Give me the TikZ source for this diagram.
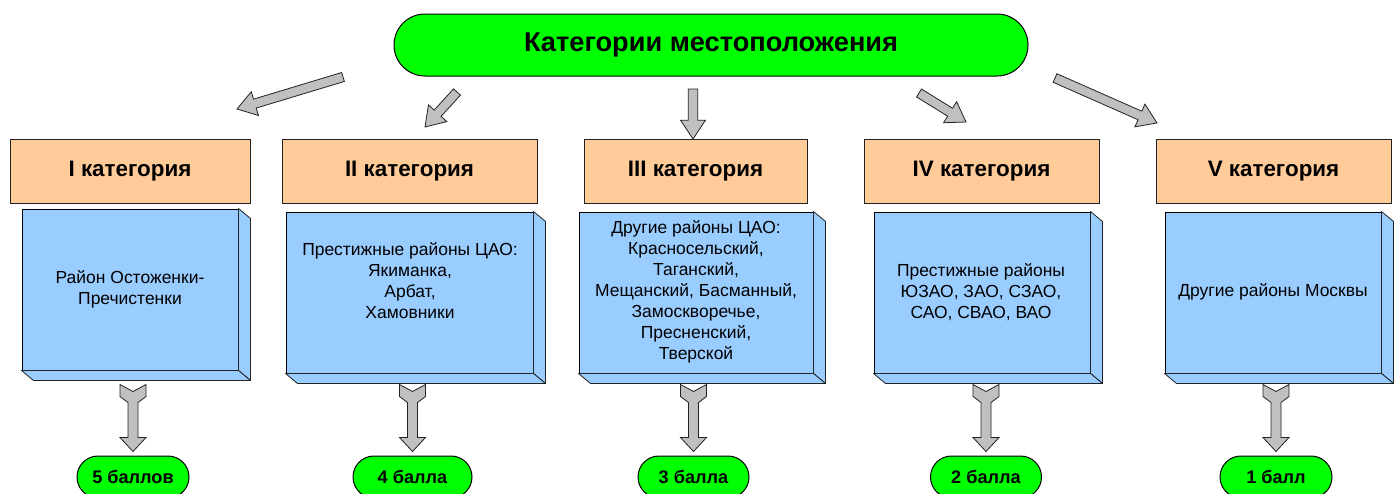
\documentclass[tikz,border=0pt]{standalone}
\usepackage{fontspec}
\setmainfont{Liberation Sans}
\usetikzlibrary{calc,shapes.misc}
\definecolor{ogreen}{HTML}{00FF00}
\definecolor{orng}{HTML}{FFCC99}
\definecolor{lblue}{HTML}{99CCFF}
\definecolor{agray}{HTML}{C0C0C0}
\definecolor{edgec}{HTML}{222222}
\newcommand{\blockarr}[2]{%
  \path ($(#2)!14pt!(#1)$) coordinate (#2base);
  \filldraw[blockarrow] ($(#1)!3.5pt!90:(#2)$) -- ($(#2base)!3.5pt!-90:(#1)$) -- ($(#2base)!9.3pt!-90:(#1)$) -- (#2) -- ($(#2base)!9.3pt!90:(#1)$) -- ($(#2base)!3.5pt!90:(#1)$) -- ($(#1)!3.5pt!-90:(#2)$) -- cycle;}
\begin{document}
\begin{tikzpicture}[x=0.75pt,y=-0.75pt,
  pill/.style={rounded rectangle, draw=black, line width=0.75pt, fill=ogreen, inner sep=0pt},
  cathead/.style={rectangle, draw=edgec, line width=0.75pt, fill=orng, inner sep=0pt, minimum height=48pt, font=\bfseries\fontsize{16.8}{19}\selectfont},
  frontface/.style={rectangle, draw=black, line width=0.75pt, fill=lblue, inner sep=0pt, minimum height=120.75pt},
  sideface/.style={draw=edgec, line width=0.6pt, fill=lblue, line join=round},
  desc/.style={align=center, font=\fontsize{13.1}{15.75}\selectfont},
  score/.style={pill, minimum height=31.5pt, font=\bfseries\fontsize{13.6}{16}\selectfont},
  blockarrow/.style={draw=edgec, line width=0.6pt, fill=agray, line join=miter}]
\useasboundingbox (0,0) rectangle (1399,493);
\clip (0,0) rectangle (1399,493);

% top pill
\node[pill, minimum width=475.5pt, minimum height=46.5pt, font=\bfseries\fontsize{20.4}{24}\selectfont] (top) at (711,45) {Категории местоположения};

% category headers
\foreach \cx/\w/\lab [count=\i] in {130/180/I, 409.5/191.25/II, 695.5/167.25/III, 981.5/176.25/IV, 1273.5/176.25/V}
  \node[cathead, minimum width=\w pt] (h\i) at (\cx,171) {\lab{} категория};

% blue 3D boxes
\foreach \cx/\cy/\w [count=\i] in {130/289.5/162, 409.5/292.5/185.25, 696/292.5/175.5, 982/292.5/162, 1273/292.5/162}{
  \node[frontface, minimum width=\w pt] (b\i) at (\cx,\cy) {};
  \filldraw[sideface] (b\i.north east) -- ++(12,10) -- ($(b\i.south east)+(12,10)$) -- (b\i.south east) -- cycle;
  \filldraw[sideface] (b\i.south west) -- (b\i.south east) -- ($(b\i.south east)+(12,10)$) -- ($(b\i.south west)+(12,10)$) -- cycle;
}

\node[desc] (d1) at (130,289) {Район Остоженки-\\Пречистенки};
\node[desc] (d2) at (410,281) {Престижные районы ЦАО:\\Якиманка,\\Арбат,\\Хамовники};
\node[desc] (d3) at (696,292) {Другие районы ЦАО:\\Красносельский,\\Таганский,\\Мещанский, Басманный,\\Замоскворечье,\\Пресненский,\\Тверской};
\node[desc] (d4) at (981,292) {Престижные районы\\ЮЗАО, ЗАО, СЗАО,\\САО, СВАО, ВАО};
\node[desc] (d5) at (1273,292) {Другие районы Москвы};

% score pills
\foreach \cx/\w/\lab [count=\i] in {133/84/5 баллов, 412.5/89.25/4 балла, 693.5/83.25/3 балла, 986/83.25/2 балла, 1276/84/1 балл}
  \node[score, minimum width=\w pt] (o\i) at (\cx,477) {\lab};

% down arrows
\foreach \i in {1,...,5}
  \filldraw[blockarrow, shift={($(o\i.north)+(0,-71)$)}] (-13,0) -- (0,7) -- (13,0) -- (13,12) -- (5,18) -- (5,53) -- (13,53) -- (0,67) -- (-13,53) -- (-5,53) -- (-5,18) -- (-13,12) -- cycle;

% top arrows
\coordinate (t1) at (343,77);  \coordinate (p1) at (237,109);
\coordinate (t2) at (457,92);  \coordinate (p2) at (425,127);
\coordinate (t3) at (693,89);  \coordinate (p3) at (693,139);
\coordinate (t4) at (919,93);  \coordinate (p4) at (966,122);
\coordinate (t5) at (1055,78); \coordinate (p5) at (1157,123);
\blockarr{t1}{p1}
\blockarr{t2}{p2}
\blockarr{t3}{p3}
\blockarr{t4}{p4}
\blockarr{t5}{p5}
\end{tikzpicture}
\end{document}
